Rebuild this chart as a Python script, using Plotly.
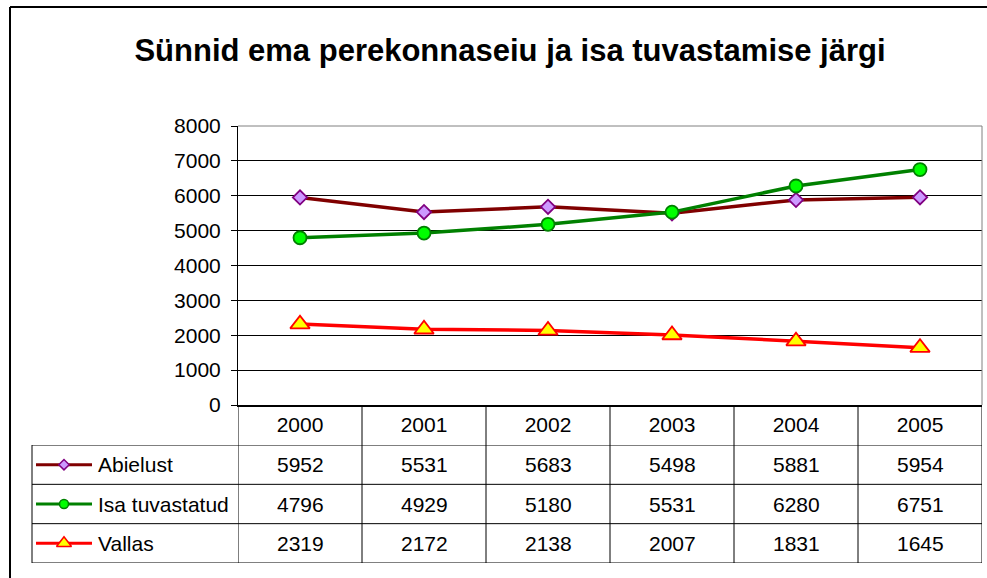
import plotly.graph_objects as go

# ---- data ----
years = ["2000", "2001", "2002", "2003", "2004", "2005"]
series_names = ["Abielust", "Isa tuvastatud", "Vallas"]
abielust = [5952, 5531, 5683, 5498, 5881, 5954]
isa_tuvastatud = [4796, 4929, 5180, 5531, 6280, 6751]
vallas = [2319, 2172, 2138, 2007, 1831, 1645]
y_ticks = [0, 1000, 2000, 3000, 4000, 5000, 6000, 7000, 8000]
title_text = "Sünnid ema perekonnaseiu ja isa tuvastamise järgi"

W, H = 987, 578
FONT = "Arial, Liberation Sans, sans-serif"

def px(x):
    return x / W

def py(y):
    return 1 - y / H

styles = {
    "Abielust": dict(line="#800000", symbol="diamond", fill="#CC99FF", mline="#800080", size=11, lsize=8),
    "Isa tuvastatud": dict(line="#008000", symbol="circle", fill="#00FF00", mline="#008000", size=13, lsize=9),
    "Vallas": dict(line="#FF0000", symbol="triangle-up", fill="#FFFF00", mline="#FF0000", size=17, lsize=13),
}
values = {"Abielust": abielust, "Isa tuvastatud": isa_tuvastatud, "Vallas": vallas}

fig = go.Figure()
xi = list(range(len(years)))

for name in series_names:
    s = styles[name]
    fig.add_trace(go.Scatter(
        x=xi, y=values[name], mode="lines+markers", name=name,
        line=dict(color=s["line"], width=3.5),
        marker=dict(symbol=s["symbol"], size=s["size"], color=s["fill"],
                    line=dict(color=s["mline"], width=1.8)),
        xaxis="x", yaxis="y", showlegend=False,
    ))

# legend keys inside the data table
for name in series_names:
    s = styles[name]
    fig.add_trace(go.Scatter(
        x=[0, 2], y=[name, name], mode="lines",
        line=dict(color=s["line"], width=3), xaxis="x2", yaxis="y2",
        showlegend=False, hoverinfo="skip"))
    fig.add_trace(go.Scatter(
        x=[1], y=[name], mode="markers",
        marker=dict(symbol=s["symbol"], size=s["lsize"], color=s["fill"],
                    line=dict(color=s["mline"], width=1.5)),
        xaxis="x2", yaxis="y2", showlegend=False, hoverinfo="skip"))

shapes = []
LC = "#000000"
# plot area gray top/right border
shapes.append(dict(type="line", xref="x domain", yref="y domain", x0=0, x1=1, y0=1, y1=1,
                   line=dict(color="#808080", width=1)))
shapes.append(dict(type="line", xref="x domain", yref="y domain", x0=1, x1=1, y0=0, y1=1,
                   line=dict(color="#808080", width=1)))
# table vertical lines at column boundaries
for k in range(len(years) + 1):
    shapes.append(dict(type="line", xref="x", yref="paper", x0=k - 0.5, x1=k - 0.5,
                       y0=py(563), y1=py(405), line=dict(color=LC, width=1)))
# table horizontal lines
for yv in [2.5, 1.5, 0.5, -0.5]:
    shapes.append(dict(type="line", xref="paper", yref="y2", x0=px(32), x1=px(982),
                       y0=yv, y1=yv, line=dict(color=LC, width=1)))
# table left border
shapes.append(dict(type="line", xref="paper", yref="y2", x0=px(32), x1=px(32),
                   y0=-0.5, y1=2.5, line=dict(color=LC, width=1)))
# outer chart border (left and top edges; right/bottom fall outside the picture)
shapes.append(dict(type="line", xref="paper", yref="paper", x0=px(10), x1=px(10),
                   y0=0, y1=py(7), line=dict(color="#000000", width=2)))
shapes.append(dict(type="line", xref="paper", yref="paper", x0=px(10), x1=1,
                   y0=py(7), y1=py(7), line=dict(color="#000000", width=2)))

annotations = []
for name in series_names:
    annotations.append(dict(xref="paper", yref="y2", x=px(96), y=name, text=name,
                            xanchor="left", yanchor="middle", showarrow=False,
                            font=dict(family=FONT, size=21, color="#000")))
    for i, v in enumerate(values[name]):
        annotations.append(dict(xref="x", yref="y2", x=i, y=name, text=str(v),
                                xanchor="center", yanchor="middle", showarrow=False,
                                font=dict(family=FONT, size=21, color="#000")))

fig.update_layout(
    template="none",
    width=W, height=H, autosize=False,
    margin=dict(l=0, r=0, t=0, b=0, pad=0, autoexpand=False),
    paper_bgcolor="white", plot_bgcolor="white",
    title=dict(text="<b>" + title_text + "</b>", x=px(510), y=py(50),
               xanchor="center", yanchor="middle",
               font=dict(family=FONT, size=31, color="#000")),
    xaxis=dict(domain=[px(238), px(982)], range=[-0.5, len(years) - 0.5],
               tickvals=xi, ticktext=years, showgrid=False, zeroline=False,
               showline=True, linecolor="#000", linewidth=2, ticks="",
               ticklabelstandoff=0, automargin=False,
               tickfont=dict(family=FONT, size=21, color="#000"), anchor="y"),
    yaxis=dict(domain=[py(405), py(126)], range=[0, 8000], tickvals=y_ticks,
               showgrid=True, gridcolor="#000", gridwidth=1, zeroline=False,
               showline=True, linecolor="#000", linewidth=1,
               ticks="outside", ticklen=6, tickcolor="#000",
               ticklabelstandoff=6, automargin=False,
               tickfont=dict(family=FONT, size=21, color="#000"), anchor="x"),
    xaxis2=dict(domain=[px(36), px(92)], range=[0, 2], visible=False, anchor="y2",
                automargin=False),
    yaxis2=dict(domain=[py(563), py(445)], type="category",
                categoryarray=series_names[::-1], categoryorder="array",
                range=[-0.5, 2.5], visible=False, anchor="x2", automargin=False),
    shapes=shapes, annotations=annotations,
    showlegend=False,
)

fig.write_html("out.html", config={"displayModeBar": False},
               post_script="document.body.style.margin='0';document.body.style.overflow='hidden';")
